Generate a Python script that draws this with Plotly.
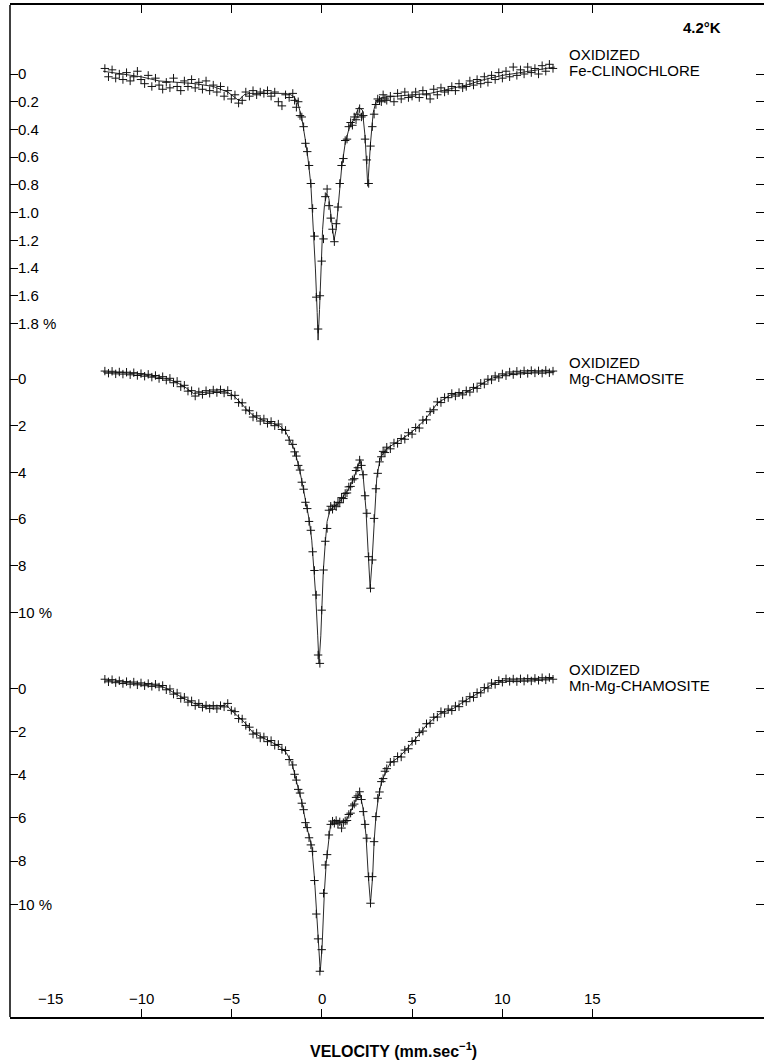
import plotly.graph_objects as go

# ---------------- data ----------------
# channel velocities (mm/s) of the measured points
CHANNELS = [
    -12.0, -11.8, -11.6, -11.4, -11.2, -11.0, -10.8, -10.6, -10.4, -10.2,
    -10.0, -9.8, -9.6, -9.4, -9.2, -9.0, -8.8, -8.6, -8.4, -8.2,
    -8.0, -7.8, -7.6, -7.4, -7.2, -7.0, -6.8, -6.6, -6.4, -6.2,
    -6.0, -5.8, -5.6, -5.4, -5.2, -5.0, -4.8, -4.6, -4.4, -4.2,
    -4.0, -3.8, -3.6, -3.4, -3.2, -3.0, -2.8, -2.6, -2.4, -2.2,
    -2.0, -1.8,
    -1.6, -1.5, -1.4, -1.3, -1.2, -1.1, -1.0, -0.9, -0.8, -0.7,
    -0.6, -0.5, -0.4, -0.3, -0.2, -0.1,
    0.0, 0.1, 0.2, 0.3, 0.4, 0.5, 0.6, 0.7, 0.8, 0.9,
    1.0, 1.1, 1.2, 1.3, 1.4, 1.5, 1.6, 1.7, 1.8, 1.9,
    2.0, 2.1, 2.2, 2.3, 2.4, 2.5, 2.6, 2.7, 2.8, 2.9,
    3.0, 3.1, 3.2, 3.3, 3.4, 3.5, 3.6,
    3.8,
    4.0, 4.2, 4.4, 4.6, 4.8, 5.0, 5.2, 5.4, 5.6, 5.8,
    6.0, 6.2, 6.4, 6.6, 6.8, 7.0, 7.2, 7.4, 7.6, 7.8,
    8.0, 8.2, 8.4, 8.6, 8.8, 9.0, 9.2, 9.4, 9.6, 9.8,
    10.0, 10.2, 10.4, 10.6, 10.8, 11.0, 11.2, 11.4, 11.6, 11.8,
    12.0, 12.2, 12.4, 12.6, 12.8,
]

# absorption (%) - oxidized Fe-clinochlore
FE_CLINO_DATA = [
    -0.04, 0.02, -0.03, 0.03, 0.00, 0.04, -0.01, 0.05, 0.02, -0.02,
    0.04, 0.07, 0.01, 0.09, 0.03, 0.08, 0.11, 0.06, 0.10, 0.03,
    0.09, 0.12, 0.05, 0.09, 0.04, 0.10, 0.06, 0.11, 0.05, 0.12,
    0.08, 0.13, 0.09, 0.16, 0.12, 0.18, 0.15, 0.21, 0.19, 0.13,
    0.16, 0.12, 0.15, 0.13, 0.14, 0.12, 0.16, 0.13, 0.20, 0.23,
    0.15, 0.17,
    0.14, 0.19, 0.24, 0.20, 0.30, 0.31, 0.38, 0.50, 0.56, 0.66,
    0.79, 0.97, 1.17, 1.61, 1.84, 1.60,
    1.35, 1.19, 0.885, 0.83, 0.95, 1.04, 1.12, 1.21, 1.08, 0.96,
    0.79, 0.66, 0.61, 0.48, 0.47, 0.38, 0.35, 0.37, 0.31, 0.33,
    0.29, 0.25, 0.31, 0.30, 0.47, 0.62, 0.79, 0.52, 0.38, 0.29,
    0.22, 0.18, 0.19, 0.20, 0.15, 0.18, 0.19,
    0.16,
    0.20, 0.14, 0.18, 0.13, 0.17, 0.16, 0.13, 0.17, 0.12, 0.15,
    0.18, 0.11, 0.15, 0.10, 0.13, 0.12, 0.09, 0.12, 0.07, 0.10,
    0.09, 0.05, 0.08, 0.04, 0.07, 0.02, 0.06, 0.01, 0.04, -0.01,
    0.03, -0.02, 0.02, -0.05, 0.01, -0.03, 0.00, -0.05, -0.01, -0.04,
    0.00, -0.06, -0.02, -0.07, -0.04,
]

# absorption (%) - oxidized Mg-chamosite
MG_CHAM_DATA = [
    -0.34, -0.25, -0.33, -0.22, -0.30, -0.21, -0.29, -0.18, -0.27, -0.15,
    -0.23, -0.12, -0.20, -0.08, -0.15, -0.02, -0.10, 0.05, -0.03, 0.16,
    0.10, 0.33, 0.27, 0.52, 0.50, 0.73, 0.55, 0.66, 0.50, 0.61,
    0.47, 0.58, 0.46, 0.60, 0.49, 0.71, 0.70, 1.01, 1.02, 1.33,
    1.36, 1.63, 1.58, 1.80, 1.71, 1.90, 1.82, 2.00, 1.93, 2.16,
    2.20, 2.62,
    2.80, 3.12, 3.30, 3.70, 3.90, 4.42, 4.72, 5.28, 5.55, 6.10,
    6.48, 7.40, 8.20, 9.25, 11.82, 12.18,
    9.90, 8.18, 6.95, 6.40, 5.62, 5.45, 5.58, 5.40, 5.47, 5.28,
    5.30, 5.08, 5.12, 4.90, 4.88, 4.62, 4.60, 4.32, 4.27, 3.92,
    3.80, 3.47, 3.70, 4.10, 5.00, 5.75, 7.61, 8.96, 7.75, 5.97,
    4.70, 4.04, 3.55, 3.33, 3.10, 3.15, 2.92,
    2.99,
    2.74, 2.76, 2.55, 2.58, 2.30, 2.36, 2.08, 2.10, 1.76, 1.75,
    1.40, 1.32, 0.98, 1.01, 0.79, 0.80, 0.62, 0.73, 0.58, 0.68,
    0.50, 0.56, 0.36, 0.40, 0.18, 0.22, 0.01, 0.04, -0.13, -0.05,
    -0.22, -0.14, -0.30, -0.19, -0.33, -0.22, -0.35, -0.24, -0.36, -0.26,
    -0.35, -0.25, -0.37, -0.27, -0.34,
]

# absorption (%) - oxidized Mn-Mg-chamosite
MN_MG_CHAM_DATA = [
    -0.42, -0.30, -0.40, -0.26, -0.35, -0.22, -0.31, -0.19, -0.29, -0.16,
    -0.25, -0.12, -0.22, -0.09, -0.19, -0.06, -0.13, 0.07, 0.03, 0.27,
    0.22, 0.47, 0.41, 0.64, 0.58, 0.80, 0.70, 0.88, 0.79, 0.94,
    0.80, 0.95, 0.80, 0.86, 0.70, 1.02, 1.08, 1.40, 1.42, 1.72,
    1.80, 2.12, 2.07, 2.30, 2.25, 2.47, 2.42, 2.64, 2.60, 2.83,
    2.88, 3.30,
    3.55, 3.98, 4.25, 4.68, 4.85, 5.32, 5.62, 6.22, 6.45, 6.92,
    7.25, 7.55, 8.90, 10.45, 11.6, 13.1,
    12.1, 9.49, 8.18, 7.70, 6.79, 6.30, 6.15, 6.25, 6.12, 6.28,
    6.18, 6.47, 6.22, 6.14, 6.12, 5.84, 5.78, 5.44, 5.36, 5.05,
    4.98, 4.79, 5.15, 5.71, 6.30, 6.94, 8.72, 9.95, 8.72, 7.10,
    5.94, 5.09, 4.80, 4.32, 4.18, 3.84, 3.72,
    3.42,
    3.40, 3.16, 3.18, 2.86, 2.80, 2.46, 2.42, 2.05, 1.98, 1.64,
    1.62, 1.34, 1.33, 1.08, 1.15, 0.96, 1.03, 0.82, 0.85, 0.59,
    0.62, 0.39, 0.42, 0.20, 0.21, -0.03, -0.01, -0.24, -0.18, -0.36,
    -0.28, -0.44, -0.32, -0.43, -0.31, -0.44, -0.33, -0.45, -0.34, -0.46,
    -0.37, -0.49, -0.39, -0.50, -0.42,
]

# fitted curves
FE_CLINO_FIT_V = [-12.1, -11.0, -10.0, -9.0, -8.0, -7.0, -6.0, -5.2, -4.9, -4.6,
                  -4.3, -4.0, -3.0, -2.0, -1.7, -1.5, -1.3, -1.1, -0.9, -0.75,
                  -0.6, -0.45, -0.35, -0.25, -0.2, -0.12, -0.05, 0.05, 0.15, 0.28,
                  0.4, 0.55, 0.68, 0.8, 0.95, 1.1, 1.3, 1.5, 1.8, 2.05,
                  2.25, 2.4, 2.55, 2.7, 2.85, 3.0, 3.3, 4.0, 5.0, 6.0,
                  7.0, 8.0, 9.0, 10.0, 11.0, 12.0, 12.9]
FE_CLINO_FIT_Y = [-0.02, 0.0, 0.02, 0.05, 0.06, 0.07, 0.09, 0.13, 0.16, 0.19,
                  0.15, 0.14, 0.14, 0.14, 0.15, 0.17, 0.22, 0.32, 0.48, 0.62,
                  0.80, 1.12, 1.40, 1.72, 1.92, 1.70, 1.40, 1.12, 0.95, 0.86,
                  0.90, 1.05, 1.20, 1.12, 0.90, 0.68, 0.50, 0.40, 0.32, 0.24,
                  0.26, 0.45, 0.81, 0.50, 0.28, 0.20, 0.17, 0.16, 0.15, 0.14,
                  0.11, 0.08, 0.04, 0.01, -0.01, -0.03, -0.05]

MG_CHAM_FIT_V = [-12.1, -11.0, -10.0, -9.0, -8.5, -8.0, -7.5, -7.1, -6.8, -6.3,
                 -5.8, -5.3, -4.9, -4.5, -4.1, -3.7, -3.2, -2.7, -2.3, -2.0,
                 -1.8, -1.5, -1.2, -0.9, -0.7, -0.55, -0.42, -0.33, -0.22, -0.15,
                 -0.05, 0.0, 0.09, 0.2, 0.3, 0.45, 0.6, 0.9, 1.2, 1.5,
                 1.8, 2.0, 2.12, 2.3, 2.45, 2.57, 2.68, 2.78, 2.9, 3.05,
                 3.25, 3.6, 4.2, 4.9, 5.7, 6.4, 7.1, 7.9, 8.6, 9.4,
                 10.3, 11.4, 12.9]
MG_CHAM_FIT_Y = [-0.30, -0.27, -0.20, -0.08, 0.0, 0.15, 0.38, 0.62, 0.60, 0.55,
                 0.52, 0.55, 0.70, 1.00, 1.35, 1.62, 1.78, 1.90, 2.02, 2.25,
                 2.55, 3.05, 3.95, 5.20, 6.00, 6.90, 8.10, 9.30, 11.0, 12.2,
                 11.0, 10.0, 8.20, 7.00, 6.10, 5.65, 5.50, 5.35, 5.05, 4.70,
                 4.20, 3.72, 3.45, 4.20, 5.60, 7.40, 8.95, 7.90, 6.00, 4.20,
                 3.35, 2.98, 2.68, 2.33, 1.76, 1.04, 0.69, 0.60, 0.33, -0.03,
                 -0.22, -0.30, -0.31]

MN_MG_CHAM_FIT_V = [-12.0, -11.0, -10.4, -9.0, -8.6, -7.8, -7.1, -6.4, -5.7, -5.3,
                    -4.9, -4.3, -3.8, -3.0, -2.3, -1.95, -1.65, -1.4, -1.1, -0.85,
                    -0.55, -0.4, -0.28, -0.18, -0.08, 0.02, 0.08, 0.15, 0.25, 0.4,
                    0.5, 0.8, 1.3, 1.55, 1.85, 2.1, 2.3, 2.45, 2.58, 2.7,
                    2.82, 2.9, 3.0, 3.13, 3.32, 3.78, 4.33, 5.07, 5.8, 6.55,
                    7.3, 8.0, 8.8, 9.5, 10.2, 11.3, 12.8]
MN_MG_CHAM_FIT_Y = [-0.38, -0.28, -0.23, -0.12, 0.0, 0.39, 0.69, 0.85, 0.87, 0.76,
                    1.10, 1.55, 2.05, 2.40, 2.70, 3.00, 3.45, 4.30, 5.25, 6.35,
                    7.30, 8.80, 10.4, 12.0, 13.1, 12.0, 10.6, 9.40, 8.10, 6.90,
                    6.20, 6.20, 6.20, 5.80, 5.25, 4.80, 5.60, 6.80, 8.70, 9.95,
                    8.70, 7.10, 5.95, 5.10, 4.30, 3.47, 3.15, 2.47, 1.70, 1.16,
                    0.93, 0.54, 0.16, -0.23, -0.38, -0.38, -0.46]

# tick labels
X_TICKS = [-15, -10, -5, 0, 5, 10, 15]
X_TICK_TEXT = ["−15", "−10", "−5", "0", "5", "10", "15"]
TOP_TICKS = [0, 0.2, 0.4, 0.6, 0.8, 1.0, 1.2, 1.4, 1.6, 1.8]
TOP_TICK_TEXT = ["0", "0.2", "0.4", "0.6", "0.8", "1.0", "1.2", "1.4", "1.6", "1.8 %"]
PCT_TICKS = [0, 2, 4, 6, 8, 10]
PCT_TICK_TEXT = ["0", "2", "4", "6", "8", "10 %"]

assert len(CHANNELS) == len(FE_CLINO_DATA) == len(MG_CHAM_DATA) == len(MN_MG_CHAM_DATA)
assert len(FE_CLINO_FIT_V) == len(FE_CLINO_FIT_Y)
assert len(MG_CHAM_FIT_V) == len(MG_CHAM_FIT_Y)
assert len(MN_MG_CHAM_FIT_V) == len(MN_MG_CHAM_FIT_Y)

# ---------------- figure ----------------
W, H = 764, 1062
ML, MR, MT, MB = 10, 0, 5, 45
PW, PH = W - ML - MR, H - MT - MB
FONT = "Liberation Sans, Arial, Helvetica, sans-serif"


def px(x):
    return (x - ML) / PW


def py(y):
    return (H - MB - y) / PH


def y_range(zero_px, px_per_unit):
    top = (MT - zero_px) / px_per_unit
    bottom = (H - MB - zero_px) / px_per_unit
    return [bottom, top]


fig = go.Figure()
LINE_COLOR = "#2a2a2a"
MARK_COLOR = "#111111"

for fv, fy, data, ya in [
    (FE_CLINO_FIT_V, FE_CLINO_FIT_Y, FE_CLINO_DATA, "y"),
    (MG_CHAM_FIT_V, MG_CHAM_FIT_Y, MG_CHAM_DATA, "y2"),
    (MN_MG_CHAM_FIT_V, MN_MG_CHAM_FIT_Y, MN_MG_CHAM_DATA, "y3"),
]:
    fig.add_trace(go.Scatter(x=fv, y=fy, mode="lines", yaxis=ya,
                             line=dict(color=LINE_COLOR, width=1), hoverinfo="skip"))
    fig.add_trace(go.Scatter(x=CHANNELS, y=data, mode="markers", yaxis=ya,
                             marker=dict(symbol="cross-thin", size=6,
                                         line=dict(width=1, color=MARK_COLOR))))

x0_px, x_scale = 321.7, 18.07
x_range = [(ML - x0_px) / x_scale, (W - MR - x0_px) / x_scale]

yax_common = dict(ticks="inside", ticklen=8, tickwidth=1, tickcolor="black",
                  ticklabelposition="inside", mirror="ticks", showline=False,
                  showgrid=False, zeroline=False, anchor="x", side="left",
                  tickfont=dict(size=15, color="black", family=FONT))

fig.update_layout(
    width=W, height=H,
    margin=dict(l=ML, r=MR, t=MT, b=MB),
    paper_bgcolor="white", plot_bgcolor="white",
    showlegend=False,
    font=dict(family=FONT, size=14, color="black"),
    xaxis=dict(range=x_range, tickvals=X_TICKS, ticks="inside", ticklen=8,
               tickwidth=1, tickcolor="black", showline=True, linecolor="black",
               linewidth=1.5, mirror="ticks", showticklabels=False,
               showgrid=False, zeroline=False),
    yaxis=dict(range=y_range(74, 138.6), tickvals=TOP_TICKS, ticktext=TOP_TICK_TEXT,
               **yax_common),
    yaxis2=dict(range=y_range(379, 23.35), tickvals=PCT_TICKS, ticktext=PCT_TICK_TEXT,
                overlaying="y", **yax_common),
    yaxis3=dict(range=y_range(688.3, 21.6), tickvals=PCT_TICKS, ticktext=PCT_TICK_TEXT,
                overlaying="y", **yax_common),
    shapes=[dict(type="line", xref="paper", yref="paper", x0=0, x1=0, y0=0, y1=1,
                 line=dict(color="black", width=1.5))],
)

# x tick labels, drawn inside the frame above the bottom axis
for v, t in zip(X_TICKS, X_TICK_TEXT):
    fig.add_annotation(text=t, x=v, y=py(998), xref="x", yref="paper",
                       xanchor="center", yanchor="middle", showarrow=False,
                       font=dict(size=15, color="black", family=FONT))

ann = [
    ("<b>4.2°K</b>", 701.5, 28, "center", 15),
    ("OXIDIZED", 567, 54.5, "left", 15),
    ("Fe-CLINOCHLORE", 567, 70.5, "left", 15),
    ("OXIDIZED", 567, 362.5, "left", 15),
    ("Mg-CHAMOSITE", 567, 378.5, "left", 15),
    ("OXIDIZED", 567, 669.5, "left", 15),
    ("Mn-Mg-CHAMOSITE", 567, 685.5, "left", 15),
    ("<b>VELOCITY (mm.sec<sup>−1</sup>)</b>", 393, 1050, "center", 16),
]
for text, x, y, xa, size in ann:
    fig.add_annotation(text=text, x=px(x), y=py(y), xref="paper", yref="paper",
                       xanchor=xa, yanchor="middle", showarrow=False,
                       font=dict(size=size, color="black", family=FONT))

fig.write_html("out.html")
